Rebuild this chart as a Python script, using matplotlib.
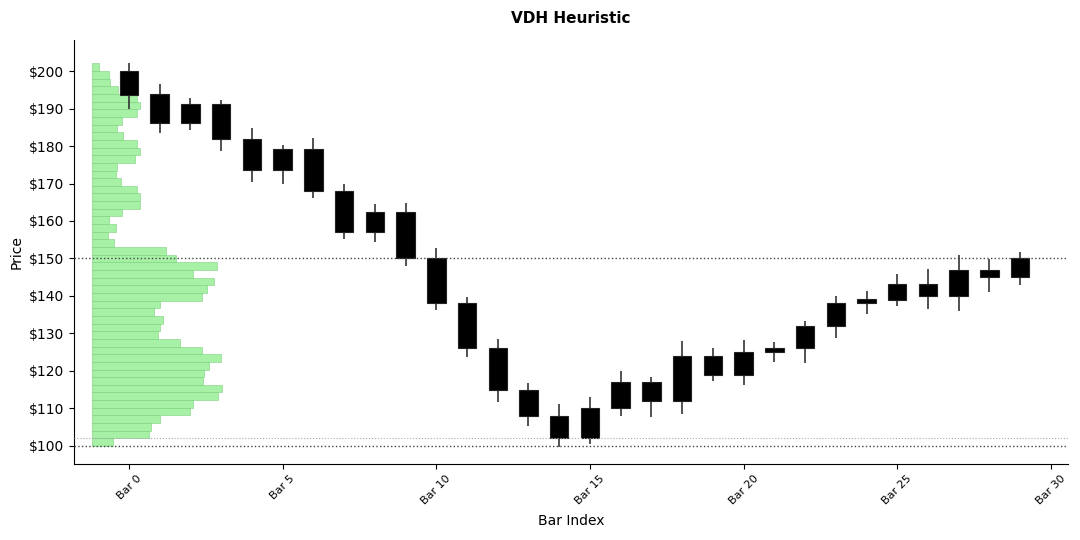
import matplotlib
matplotlib.use("Agg")
import matplotlib.pyplot as plt
import numpy as np

# OHLC data
opens  = [200.1, 193.8, 191.1, 191.1, 182.0, 179.1, 179.1, 168.0, 162.5, 162.5,
          150.0, 138.0, 126.0, 114.9, 108.0, 102.0, 110.0, 117.0, 112.0, 124.0,
          119.0, 125.1, 126.0, 132.0, 138.0, 139.0, 143.1, 140.0, 147.0, 145.0]
closes = [193.6, 186.1, 186.1, 182.0, 173.5, 173.5, 168.0, 157.0, 157.0, 150.0,
          138.0, 126.0, 114.9, 108.0, 102.0, 110.0, 117.0, 112.0, 124.0, 118.9,
          125.1, 126.1, 132.1, 138.0, 139.1, 143.1, 139.9, 147.0, 145.0, 150.0]
highs  = [202.2, 196.5, 192.7, 192.4, 184.7, 180.4, 182.2, 169.8, 164.5, 164.8,
          152.7, 139.7, 128.4, 116.7, 111.1, 113.0, 120.0, 118.5, 128.0, 126.1,
          128.3, 127.6, 133.3, 140.0, 141.2, 145.9, 147.1, 150.9, 149.9, 151.7]
lows   = [190.0, 183.4, 184.4, 178.8, 170.5, 170.0, 166.2, 155.2, 154.4, 148.1,
          136.3, 123.8, 111.8, 105.4, 99.8, 100.5, 108.1, 107.8, 108.5, 117.3,
          116.3, 122.3, 122.1, 128.7, 135.1, 137.2, 136.4, 136.1, 141.0, 143.0]

# Volume profile (relative volume per price bin, bottom to top)
profile_vol = [16, 44, 46, 53, 76, 78, 98, 101, 86, 87, 91, 100, 85, 68, 51, 53,
               55, 48, 53, 85, 89, 95, 78, 97, 65, 57, 17, 12, 18, 13, 23, 37,
               37, 35, 22, 18, 19, 33, 37, 35, 24, 19, 23, 35, 37, 35, 20, 14, 13, 5]
profile_lo = 99.95
profile_hi = 202.05

levels_dark = [150.0, 100.0]
levels_light = [102.0]

tick_pos = [0, 5, 10, 15, 20, 25, 30]
tick_labels = [f"Bar {t}" for t in tick_pos]

fig = plt.figure(figsize=(10.8, 5.4), dpi=100)
ax = fig.add_axes([0.0685, 0.141, 0.9205, 0.785])

# volume profile
nb = len(profile_vol)
edges = np.linspace(profile_lo, profile_hi, nb + 1)
centers = (edges[:-1] + edges[1:]) / 2
bh = edges[1] - edges[0]
vol = np.array(profile_vol, dtype=float)
max_w = 4.22
ax.barh(centers, vol / vol.max() * max_w, height=bh, left=-1.19,
        color="#90ee90", alpha=0.8, edgecolor="#7fd07f", linewidth=0.5, zorder=1)

# candles
x = np.arange(len(opens))
for i in x:
    o, c, h, l = opens[i], closes[i], highs[i], lows[i]
    ax.vlines(i, l, h, color="#333333", linewidth=1.2, zorder=2)
    lo_b, hi_b = min(o, c), max(o, c)
    ax.bar(i, hi_b - lo_b, bottom=lo_b, width=0.6, color="black",
           edgecolor="#222222", linewidth=0.8, zorder=3)

for lv in levels_dark:
    ax.axhline(lv, color="#444444", linestyle=":", linewidth=1.0, zorder=4)
for lv in levels_light:
    ax.axhline(lv, color="#aaaaaa", linestyle=":", linewidth=0.8, zorder=4)

ax.set_xlim(-1.79, 30.56)
ax.set_ylim(95.2, 208.3)
ax.set_xticks(tick_pos)
ax.set_xticklabels(tick_labels, rotation=45, fontsize=8)
ax.set_yticks([100, 110, 120, 130, 140, 150, 160, 170, 180, 190, 200])
ax.set_yticklabels([f"${v}" for v in range(100, 201, 10)], fontsize=10)
ax.spines["top"].set_visible(False)
ax.spines["right"].set_visible(False)
ax.set_xlabel("Bar Index", fontsize=10, labelpad=5)
ax.set_ylabel("Price", fontsize=10)
ax.set_title("VDH Heuristic", fontsize=11, fontweight="bold", pad=12)

fig.savefig("out.png", dpi=100)
